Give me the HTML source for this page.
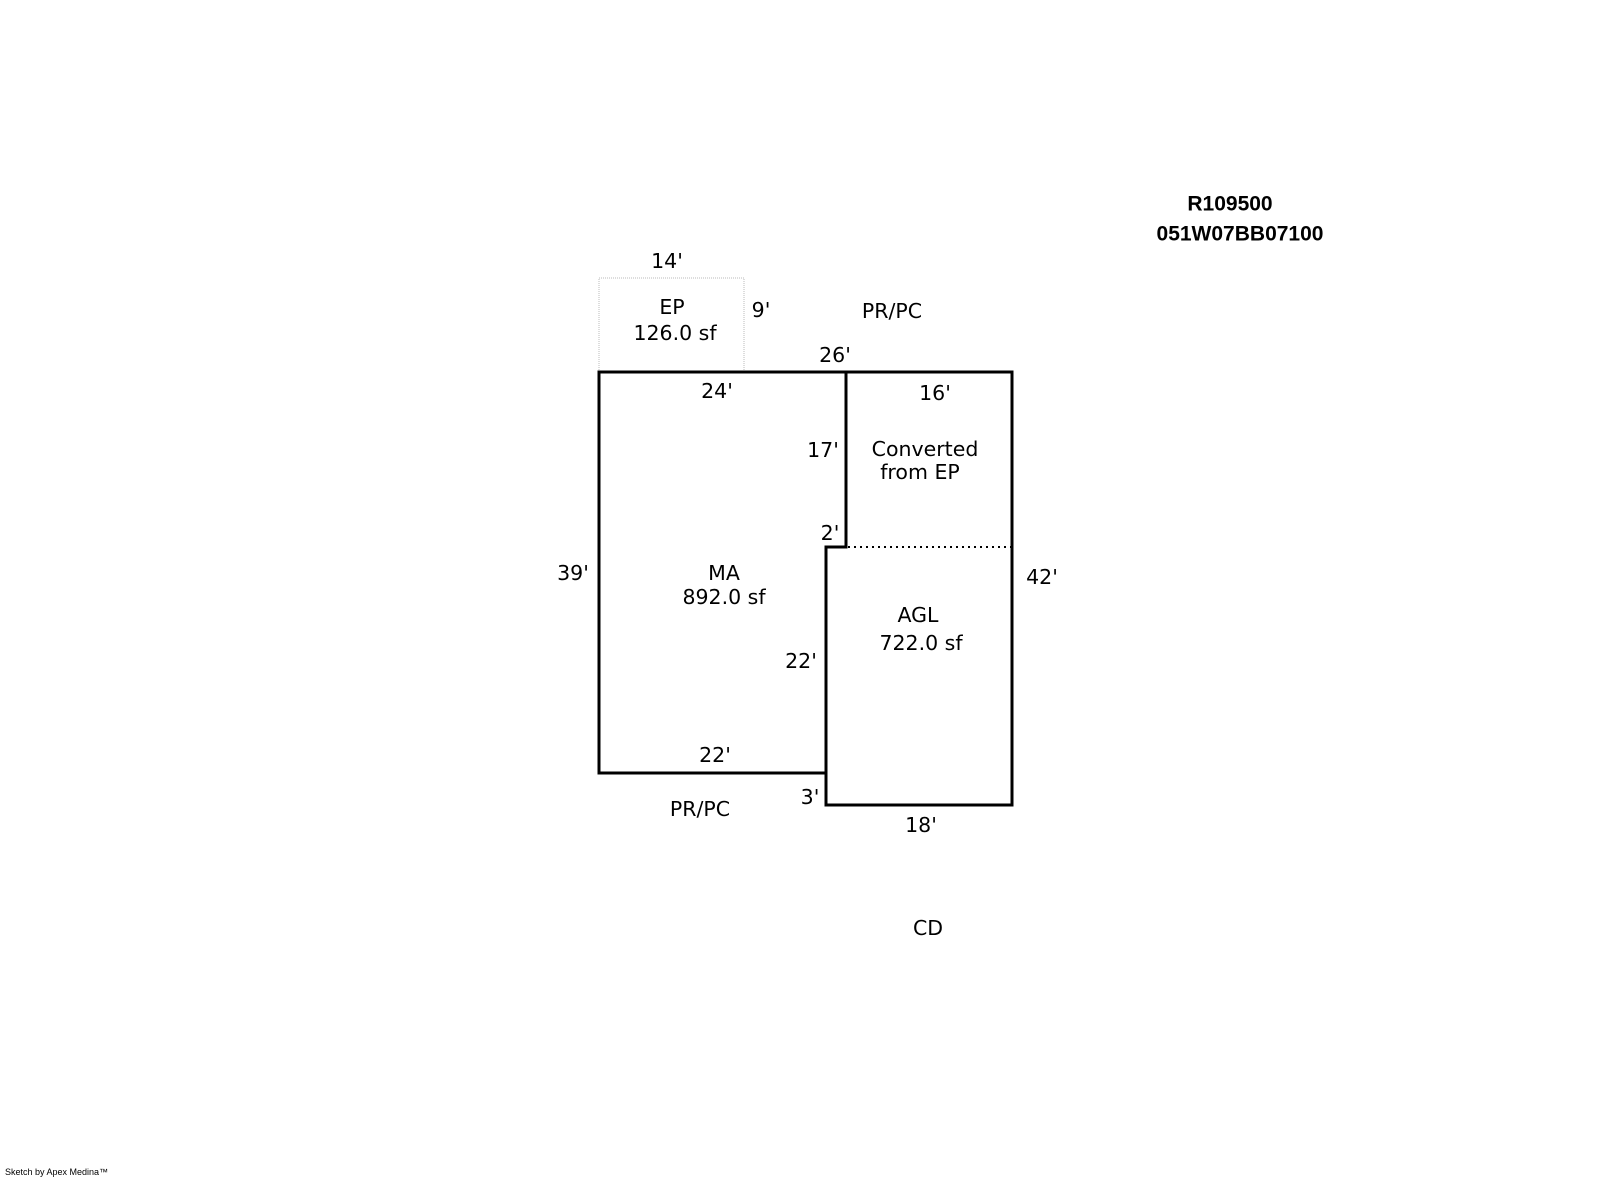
<!DOCTYPE html>
<html><head><meta charset="utf-8"><style>
html,body{margin:0;padding:0;background:#fff;}
svg{display:block;}
text{font-family:"DejaVu Sans","Liberation Sans",sans-serif;font-size:20.5px;fill:#000;text-anchor:middle;dominant-baseline:central;}
.b{font-family:"Liberation Sans",sans-serif;font-weight:bold;font-size:21px;}
</style></head><body>
<svg width="1604" height="1177" viewBox="0 0 1604 1177" xmlns="http://www.w3.org/2000/svg">
<rect x="599" y="278" width="145" height="94" fill="none" stroke="#bbb" stroke-width="1" stroke-dasharray="1,1"/>
<path d="M599 372 H1012 V805 H826 V773 H599 Z" fill="none" stroke="#000" stroke-width="3"/>
<path d="M846 372 V547 H826 V773" fill="none" stroke="#000" stroke-width="3"/>
<line x1="848" y1="547" x2="1012" y2="547" stroke="#000" stroke-width="2" stroke-dasharray="2,4"/>
<g transform="translate(-3,-2)">
<text x="670" y="263">14'</text>
<text x="675" y="309">EP</text>
<text x="678" y="335">126.0 sf</text>
<text x="764" y="312">9'</text>
<text x="895" y="313">PR/PC</text>
<text x="838" y="357">26'</text>
<text x="720" y="393">24'</text>
<text x="938" y="395">16'</text>
<text x="826" y="452">17'</text>
<text x="928" y="451">Converted</text>
<text x="923" y="474">from EP</text>
<text x="833" y="535">2'</text>
<text x="576" y="575">39'</text>
<text x="727" y="575">MA</text>
<text x="727" y="599">892.0 sf</text>
<text x="1045" y="579">42'</text>
<text x="921" y="617">AGL</text>
<text x="924" y="645">722.0 sf</text>
<text x="804" y="663">22'</text>
<text x="718" y="757">22'</text>
<text x="813" y="799">3'</text>
<text x="703" y="811">PR/PC</text>
<text x="924" y="827">18'</text>
<text x="931" y="930">CD</text>
</g>
<text class="b" x="1230" y="204">R109500</text>
<text class="b" x="1240" y="234">051W07BB07100</text>
<text x="5" y="1175" style="font-size:9px;text-anchor:start;dominant-baseline:auto;font-family:'Liberation Sans',sans-serif">Sketch by Apex Medina™</text>
</svg>
</body></html>
